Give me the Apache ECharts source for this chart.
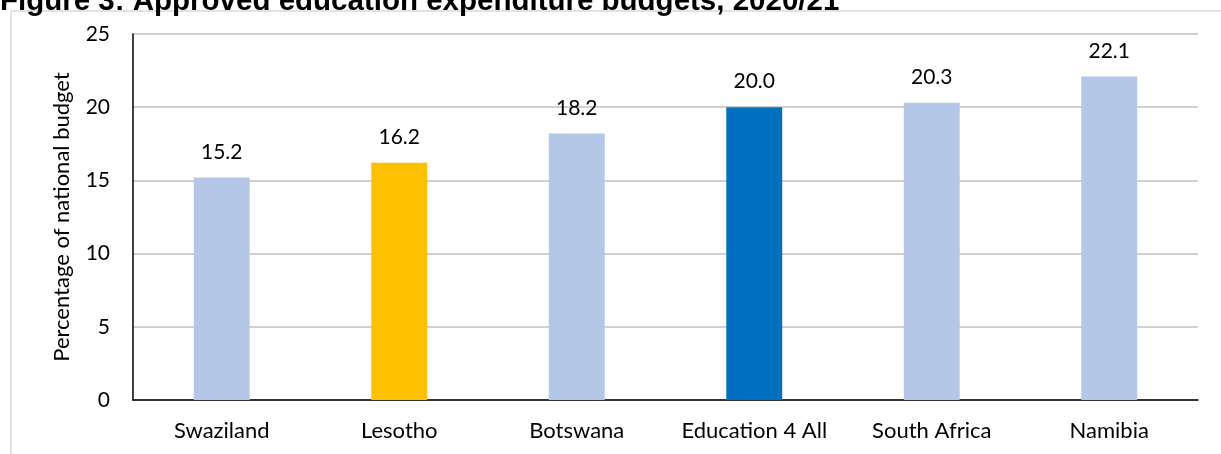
<!DOCTYPE html>
<html>
<head>
<meta charset="utf-8">
<script src="https://cdn.jsdelivr.net/npm/echarts@6/dist/echarts.min.js"></script>
<style>
    html, body { margin: 0; padding: 0; background: #fff; }
    #chart_budget { width: 1221px; height: 454px; }
</style>
</head>
<body>
<div id="chart_budget"></div>
<script>
var countries = ['Swaziland', 'Lesotho', 'Botswana', 'Education 4 All', 'South Africa', 'Namibia'];
var budgetShare = [15.2, 16.2, 18.2, 20.0, 20.3, 22.1];
var barColors = ['#B4C7E7', '#FFC000', '#B4C7E7', '#0070C0', '#B4C7E7', '#B4C7E7'];
var titleText = 'Figure 3: Approved education expenditure budgets, 2020/21';
var yAxisName = 'Percentage of national budget';

var chart_budget = null;

function initChart() {
    chart_budget = echarts.init(document.getElementById('chart_budget'));

    var barData = [];
    for (var i = 0; i < budgetShare.length; i++) {
        barData.push({
            value: budgetShare[i],
            itemStyle: { color: barColors[i] }
        });
    }

    var option = {
        animation: false,
        textStyle: { fontFamily: 'Lato' },
        graphic: [
            {
                type: 'rect',
                shape: { x: 11, y: 11, width: 1300, height: 500 },
                style: { fill: 'none', stroke: '#d9d9d9', lineWidth: 1.5 },
                silent: true
            },
            {
                type: 'text',
                x: 0,
                y: -13,
                style: {
                    text: titleText,
                    font: 'bold 29.5px "Liberation Sans", Arial',
                    fill: '#000',
                    verticalAlign: 'top'
                }
            }
        ],
        grid: {
            left: 133,
            right: 23,
            top: 34,
            bottom: 54
        },
        xAxis: {
            type: 'category',
            data: countries,
            axisLine: { lineStyle: { color: '#000', width: 1.5 } },
            axisTick: { show: false },
            axisLabel: {
                color: '#000',
                fontSize: 22,
                margin: 20,
                interval: 0
            }
        },
        yAxis: {
            type: 'value',
            min: 0,
            max: 25,
            interval: 5,
            name: yAxisName,
            nameLocation: 'middle',
            nameGap: 60,
            nameTextStyle: { color: '#000', fontSize: 22 },
            axisLine: { show: true, lineStyle: { color: '#000', width: 1.5 } },
            axisTick: { show: false },
            axisLabel: {
                color: '#000',
                fontSize: 21,
                margin: 23
            },
            splitLine: { lineStyle: { color: '#c0c0c0', width: 1.5 } }
        },
        series: [{
            type: 'bar',
            barWidth: '31.5%',
            data: barData,
            label: {
                show: true,
                position: 'top',
                distance: 15,
                color: '#000',
                fontSize: 21,
                formatter: function (p) { return p.value.toFixed(1); }
            }
        }]
    };

    chart_budget.setOption(option);
}

initChart();
</script>
</body>
</html>
